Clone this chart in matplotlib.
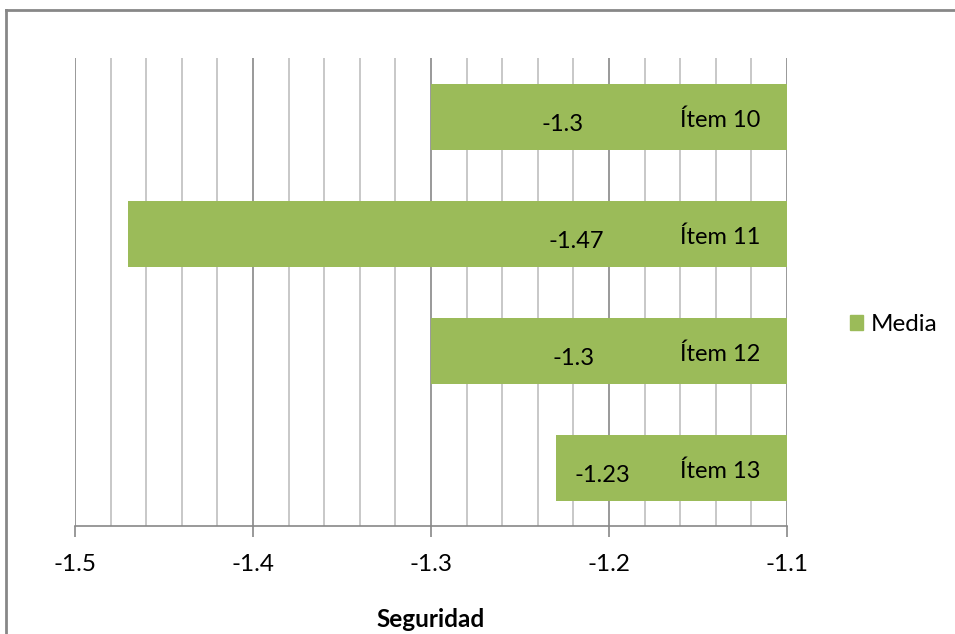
import matplotlib.pyplot as plt
import matplotlib.patches as mpatches
from matplotlib.ticker import MultipleLocator

items = ["Ítem 10", "Ítem 11", "Ítem 12", "Ítem 13"]
media = [-1.3, -1.47, -1.3, -1.23]
value_label_x = [-1.226, -1.2185, -1.220, -1.204]

green = "#9BBB59"
plt.rcParams["font.family"] = ["Lato", "DejaVu Sans"]

fig = plt.figure(figsize=(9.55, 6.34), dpi=100)
ax = fig.add_axes([0.0785, 0.1703, 0.7456, 0.7382])

ypos = list(range(len(items)))
base = -1.1
ax.barh(ypos, [m - base for m in media], left=base, height=0.564,
        color=green, zorder=3, label="Media")

for y, m, item, lx in zip(ypos, media, items, value_label_x):
    ax.text(lx, y + 0.07, f"{m:g}", ha="center", va="center", fontsize=17, zorder=4)
    ax.text(-1.1374, y + 0.03, item, ha="center", va="center", fontsize=17, zorder=4)

ax.set_xlim(-1.5, -1.1)
ax.set_ylim(len(items) - 0.5, -0.5)
ax.xaxis.set_minor_locator(MultipleLocator(0.02))
ax.set_xticks([-1.5, -1.4, -1.3, -1.2, -1.1])
ax.set_xticklabels(["-1.5", "-1.4", "-1.3", "-1.2", "-1.1"], fontsize=17.5)
ax.set_yticks([])
ax.grid(which="minor", axis="x", color="#BFBFBF", linewidth=1.2, zorder=1)
ax.grid(which="major", axis="x", color="#878787", linewidth=1.2, zorder=1)
ax.tick_params(axis="x", which="major", length=8, width=1.2, color="#878787", pad=12)
ax.tick_params(axis="x", which="minor", length=0)

for side in ["top", "right", "left"]:
    ax.spines[side].set_visible(False)
ax.spines["bottom"].set_color("#878787")
ax.spines["bottom"].set_linewidth(1.2)

ax.set_xlabel("Seguridad", fontsize=17.5, fontweight="bold", labelpad=24)

handle = mpatches.Patch(color=green, label="Media")
fig.legend(handles=[handle], loc="center left", bbox_to_anchor=(0.89, 0.488),
           frameon=False, fontsize=17.5, handlelength=0.55, handleheight=0.55,
           handletextpad=0.3, borderaxespad=0, borderpad=0)

# chart area border (only top and left edges fall inside the image)
fig.add_artist(plt.Line2D([6 / 955, 6 / 955], [0, 1 - 10 / 634], transform=fig.transFigure,
                          color="#878787", linewidth=2))
fig.add_artist(plt.Line2D([6 / 955, 1], [1 - 10 / 634, 1 - 10 / 634], transform=fig.transFigure,
                          color="#878787", linewidth=2))

fig.savefig("out.png", dpi=100)
